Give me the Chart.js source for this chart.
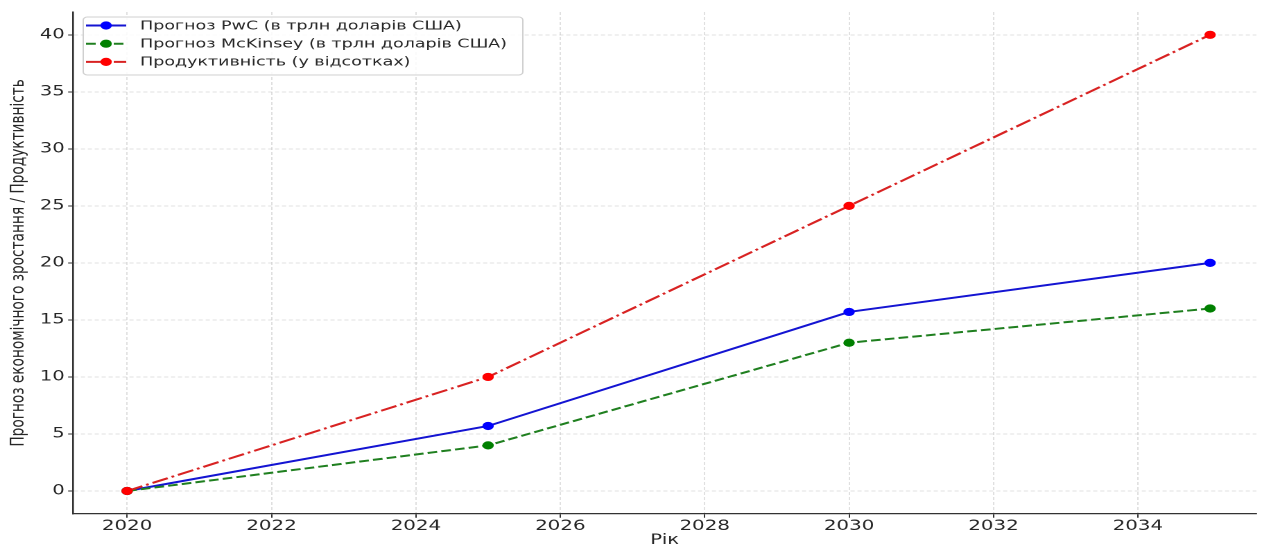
<!DOCTYPE html>
<html>
<head>
<meta charset="utf-8">
<script src="https://cdn.jsdelivr.net/npm/chart.js@4"></script>
<style>
  html, body { margin: 0; padding: 0; background: #fff; overflow: hidden; }
  /* the figure is laid out on a narrower canvas and widened to fill the window */
  #wrap { width: 910px; height: 546px; transform: scaleX(1.3868); transform-origin: 0 0; }
</style>
</head>
<body>
<div id="wrap"><canvas id="c"></canvas></div>
<script>
// forecast years
const years = [2020, 2025, 2030, 2035];
// PwC forecast, trillion USD
const pwcForecast = [0, 5.7, 15.7, 20];
// McKinsey forecast, trillion USD
const mckinseyForecast = [0, 4, 13, 16];
// productivity growth, percent
const productivity = [0, 10, 25, 40];

const xTickValues = [2020, 2022, 2024, 2026, 2028, 2030, 2032, 2034];
const yTickValues = [0, 5, 10, 15, 20, 25, 30, 35, 40];

const seriesLabels = [
  'Прогноз PwC (в трлн доларів США)',
  'Прогноз McKinsey (в трлн доларів США)',
  'Продуктивність (у відсотках)'
];

const toPoints = vals => years.map((x, i) => ({ x: x, y: vals[i] }));

const FONT = "'DejaVu Sans', sans-serif";

// legend box drawn like a matplotlib legend: line sample with a marker in the middle
const frameLegend = {
  id: 'frameLegend',
  afterDatasetsDraw(chart) {
    const ctx = chart.ctx;
    const sets = chart.data.datasets;
    const x0 = 60, y0 = 17, w = 317, h = 58;
    ctx.save();
    ctx.beginPath();
    ctx.roundRect(x0, y0, w, h, 3);
    ctx.fillStyle = 'rgba(255,255,255,0.85)';
    ctx.fill();
    ctx.strokeStyle = '#d0d0d0';
    ctx.lineWidth = 1;
    ctx.stroke();
    ctx.font = '12.6px ' + FONT;
    ctx.textBaseline = 'middle';
    sets.forEach((ds, i) => {
      const cy = y0 + 8.5 + i * 18.2;
      ctx.beginPath();
      ctx.setLineDash(ds.borderDash || []);
      ctx.strokeStyle = ds.borderColor;
      ctx.lineWidth = ds.borderWidth;
      ctx.moveTo(62, cy);
      ctx.lineTo(91, cy);
      ctx.stroke();
      ctx.setLineDash([]);
      ctx.beginPath();
      ctx.arc(76.5, cy, ds.pointRadius, 0, Math.PI * 2);
      ctx.fillStyle = ds.pointBackgroundColor;
      ctx.fill();
      ctx.fillStyle = '#262626';
      ctx.fillText(ds.label, 101, cy + 0.5);
    });
    ctx.restore();
  }
};

new Chart(document.getElementById('c'), {
  type: 'line',
  data: {
    datasets: [
      {
        label: seriesLabels[0],
        data: toPoints(pwcForecast),
        borderColor: '#1414d2',
        pointBackgroundColor: '#0000ff',
        pointBorderColor: '#0000ff',
        borderWidth: 2,
        pointRadius: 4.1,
        pointBorderWidth: 0,
        order: 3
      },
      {
        label: seriesLabels[1],
        data: toPoints(mckinseyForecast),
        borderColor: '#1f7f1f',
        pointBackgroundColor: '#008000',
        pointBorderColor: '#008000',
        borderWidth: 2,
        borderDash: [7, 3],
        pointRadius: 4.1,
        pointBorderWidth: 0,
        order: 2
      },
      {
        label: seriesLabels[2],
        data: toPoints(productivity),
        borderColor: '#d82222',
        pointBackgroundColor: '#ff0000',
        pointBorderColor: '#ff0000',
        borderWidth: 2,
        borderDash: [12, 3, 2, 3],
        pointRadius: 4.1,
        pointBorderWidth: 0,
        order: 1
      }
    ]
  },
  options: {
    responsive: true,
    maintainAspectRatio: false,
    devicePixelRatio: 2,
    animation: false,
    layout: { padding: { top: 12, right: 0, bottom: 0, left: 0 } },
    elements: { line: { tension: 0 } },
    plugins: { legend: { display: false }, tooltip: { enabled: false } },
    scales: {
      x: {
        type: 'linear',
        min: 2019.25,
        max: 2035.64,
        afterBuildTicks: s => { s.ticks = xTickValues.map(v => ({ value: v })); },
        afterFit: s => { s.height = 32.2; },
        ticks: {
          color: '#262626',
          font: { family: FONT, size: 14.3 },
          padding: 0,
          maxRotation: 0,
          callback: v => String(v)
        },
        grid: {
          color: 'rgba(190,190,190,0.6)',
          lineWidth: 0.8,
          tickColor: '#333',
          tickLength: 4,
          tickWidth: 1
        },
        border: { display: true, color: '#333', width: 1.3, dash: [3, 2] },
        title: {
          display: true,
          text: 'Рік',
          color: '#262626',
          font: { family: FONT, size: 14, lineHeight: 0.8 },
          padding: { top: 0, bottom: 0 }
        }
      },
      y: {
        min: -2,
        max: 42,
        afterBuildTicks: s => { s.ticks = yTickValues.map(v => ({ value: v })); },
        afterFit: s => { s.width = 52.6; },
        ticks: {
          color: '#262626',
          font: { family: FONT, size: 14 },
          padding: 2.5,
          callback: v => String(v)
        },
        grid: {
          color: 'rgba(190,190,190,0.6)',
          lineWidth: 0.8,
          tickColor: '#333',
          tickLength: 3.5,
          tickWidth: 1
        },
        border: { display: true, color: '#333', width: 1.3, dash: [3, 2] },
        title: {
          display: true,
          text: 'Прогноз економічного зростання / Продуктивність',
          color: '#262626',
          font: { family: FONT, size: 13.7 },
          padding: { top: 5, bottom: 0 }
        }
      }
    }
  },
  plugins: [frameLegend]
});
</script>
</body>
</html>
